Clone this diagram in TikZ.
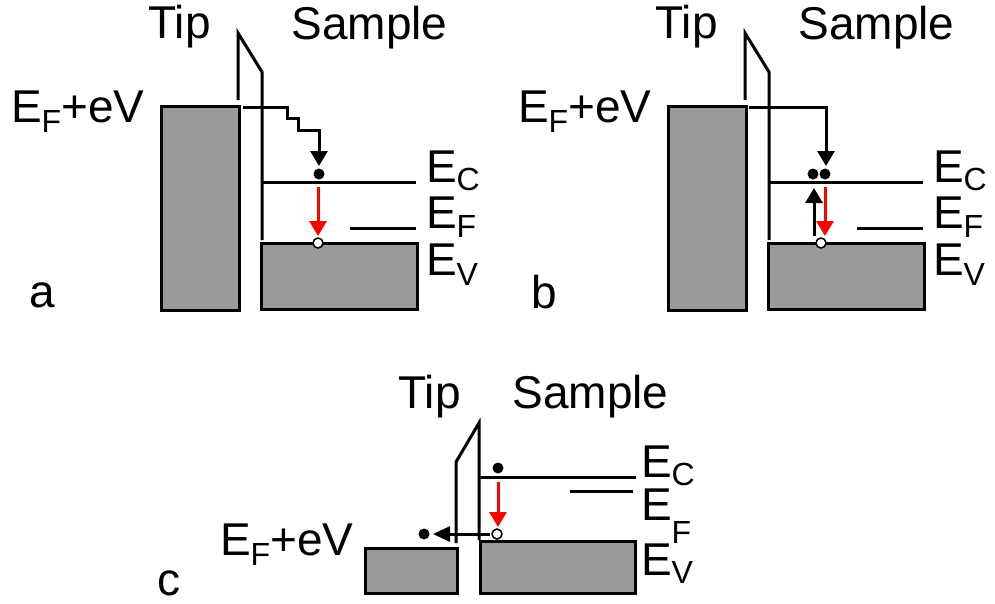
\documentclass[tikz,border=0pt]{standalone}
\usepackage{fontspec}
\setmainfont{Liberation Sans}
\usetikzlibrary{arrows.meta}
\definecolor{bandgray}{RGB}{153,153,153}
\definecolor{arrred}{RGB}{255,0,0}
\newcommand{\mysub}[2][9]{\raisebox{-#1pt}{\fontsize{32}{36}\selectfont #2}}
\begin{document}
\begin{tikzpicture}[x=1pt,y=-1pt,line width=3pt,
  band/.style={draw=black,fill=bandgray,line width=3pt},
  lvl/.style={line width=3pt},
  lbl/.style={anchor=base west,inner sep=0pt,font=\fontsize{46}{55}\selectfont},
  electron/.style={circle,fill=black,inner sep=0pt,minimum size=11pt},
  hole/.style={circle,draw=black,fill=white,line width=1.5pt,inner sep=0pt,minimum size=10pt},
  tarrow/.style={-{Triangle[length=15pt,width=17pt]},line width=3pt},
  rarrow/.style={tarrow,draw=arrred,color=arrred}]
\useasboundingbox (0,0) rectangle (995,603);

% ---------------- panel a ----------------
\draw[band] (161,106) rectangle (239,310);
\draw[band] (261,243) rectangle (417,309);
\draw[lvl] (238,100) -- (238,33) -- (262,72) -- (262,240);
\draw[lvl] (262,182) -- (416,182);
\draw[lvl] (350,228) -- (416,228);
\node[electron] (ea) at (319,174) {};
\node[hole] (ha) at (318,243) {};
\coordinate (sa) at (243,107);
\coordinate (ta) at (319,166);
\draw[tarrow] (sa) -- (287,107) -- (287,118) -- (298,118) -- (298,130) -- (319,130) -- (ta);
\coordinate (ra1) at (318,187);
\coordinate (ra2) at (318,236);
\draw[rarrow] (ra1) -- (ra2);
\node[lbl] (tipa) at (147,38) {Tip};
\node[lbl] (sampa) at (290,39) {Sample};
\node[lbl] (efva) at (9.5,122) {E\mysub[10]{F}+eV};
\node[lbl] (eca) at (424.5,182) {E\mysub[8]{C}};
\node[lbl] (efa) at (424.5,228) {E\mysub{F}};
\node[lbl] (eva) at (424.5,275) {E\mysub[10]{V}};
\node[lbl] (la) at (28,307) {a};

% ---------------- panel b ----------------
\draw[band] (668,106) rectangle (746,310);
\draw[band] (768,243) rectangle (924,309);
\draw[lvl] (745,100) -- (745,33) -- (769,72) -- (769,240);
\draw[lvl] (769,182) -- (923,182);
\draw[lvl] (857,228) -- (923,228);
\node[electron] (eb1) at (813,174) {};
\node[electron] (eb2) at (825,174) {};
\node[hole] (hb) at (821,243) {};
\coordinate (sb) at (749,107);
\coordinate (tb) at (826,166);
\draw[tarrow] (sb) -- (826,107) -- (tb);
\coordinate (ub1) at (814,236);
\coordinate (ub2) at (814,188);
\draw[tarrow] (ub1) -- (ub2);
\coordinate (rb1) at (825,187);
\coordinate (rb2) at (825,236);
\draw[rarrow] (rb1) -- (rb2);
\node[lbl] (tipb) at (654,38) {Tip};
\node[lbl] (sampb) at (797,39) {Sample};
\node[lbl] (efvb) at (516.5,122) {E\mysub[10]{F}+eV};
\node[lbl] (ecb) at (931.5,182) {E\mysub[8]{C}};
\node[lbl] (efb) at (931.5,228) {E\mysub{F}};
\node[lbl] (evb) at (931.5,275) {E\mysub[10]{V}};
\node[lbl] (lb) at (530,308) {b};

% ---------------- panel c ----------------
\draw[band] (365,548) rectangle (457,593);
\draw[band] (480,541) rectangle (635,593);
\draw[lvl] (456,543) -- (456,462) -- (479,423) -- (479,540);
\draw[lvl] (480,477) -- (636,477);
\draw[lvl] (570,491) -- (633,491);
\node[electron] (ec1) at (498,468) {};
\node[hole] (hc) at (497,534) {};
\node[electron] (ec2) at (424,534) {};
\coordinate (rc1) at (498,482);
\coordinate (rc2) at (498,527);
\draw[rarrow] (rc1) -- (rc2);
\coordinate (lc1) at (490,534);
\coordinate (lc2) at (433,534);
\draw[tarrow,-{Triangle[length=17pt,width=15pt]}] (lc1) -- (lc2);
\node[lbl] (tipc) at (397,408) {Tip};
\node[lbl] (sampc) at (511,408) {Sample};
\node[lbl] (efvc) at (218.5,555) {E\mysub[10]{F}+eV};
\node[lbl] (ecc) at (639.5,477) {E\mysub[8]{C}};
\node[lbl] (efc) at (639.5,520) {E\mysub[23]{F}};
\node[lbl] (evc) at (639.5,575) {E\mysub[8]{V}};
\node[lbl] (lc) at (156,595) {c};
\end{tikzpicture}
\end{document}
